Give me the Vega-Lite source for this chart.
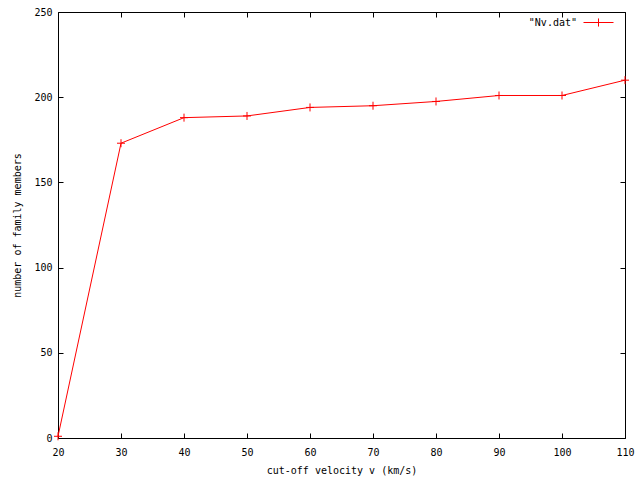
{
  "$schema": "https://vega.github.io/schema/vega-lite/v6.json",
  "width": 567,
  "height": 426,
  "autosize": {"type": "none"},
  "padding": {"left": 58, "top": 12, "right": 15, "bottom": 42},
  "background": "white",
  "config": {
    "font": "DejaVu Sans Mono",
    "view": {"stroke": "#000", "strokeWidth": 1},
    "axis": {
      "grid": false,
      "domain": false,
      "tickColor": "#000",
      "tickWidth": 1,
      "labelFont": "DejaVu Sans Mono",
      "labelFontSize": 10,
      "labelColor": "#000",
      "titleFont": "DejaVu Sans Mono",
      "titleFontSize": 10,
      "titleFontWeight": "normal",
      "titleColor": "#000"
    }
  },
  "data": {
    "values": [
      {"v": 20, "n": 1},
      {"v": 30, "n": 173},
      {"v": 40, "n": 188},
      {"v": 50, "n": 189},
      {"v": 60, "n": 194},
      {"v": 70, "n": 195},
      {"v": 80, "n": 197.5},
      {"v": 90, "n": 201},
      {"v": 100, "n": 201},
      {"v": 110, "n": 210}
    ]
  },
  "layer": [
    {
      "mark": {"type": "line", "color": "red", "strokeWidth": 1},
      "encoding": {
        "x": {
          "field": "v", "type": "quantitative",
          "scale": {"domain": [20, 110], "nice": false, "zero": false},
          "axis": {"orient": "bottom", "values": [20,30,40,50,60,70,80,90,100,110], "ticks": false, "title": "cut-off velocity v (km/s)", "labelPadding": 9, "titlePadding": 8, "labelFlush": false}
        },
        "y": {
          "field": "n", "type": "quantitative",
          "scale": {"domain": [0, 250], "nice": false},
          "axis": {"orient": "left", "values": [0,50,100,150,200,250], "ticks": false, "title": "number of family members", "labelPadding": 6, "titlePadding": 11, "labelFlush": false}
        },
        "color": {
          "datum": "\"Nv.dat\"",
          "scale": {"range": ["#ff0000"]},
          "legend": {
            "title": null,
            "orient": "none",
            "legendX": 525,
            "legendY": -5,
            "symbolType": "M-1,0H1M0,-0.27V0.27",
            "symbolSize": 900,
            "symbolStrokeWidth": 1,
            "symbolStrokeColor": "#ff0000",
            "symbolOpacity": 1,
            "labelAlign": "right",
            "labelOffset": -37,
            "labelFont": "DejaVu Sans Mono",
            "labelFontSize": 10,
            "labelColor": "#000"
          }
        }
      }
    },
    {
      "mark": {"type": "point", "shape": "M-1,0H1M0,-1V1", "size": 64, "filled": false, "color": "red", "strokeWidth": 1, "opacity": 1},
      "encoding": {
        "x": {
          "field": "v", "type": "quantitative",
          "scale": {"domain": [20, 110], "nice": false, "zero": false},
          "axis": {"orient": "top", "values": [20,30,40,50,60,70,80,90,100,110], "labels": false, "title": null, "offset": -5, "tickSize": 5}
        },
        "y": {
          "field": "n", "type": "quantitative",
          "scale": {"domain": [0, 250], "nice": false},
          "axis": {"orient": "right", "values": [0,50,100,150,200,250], "labels": false, "title": null, "offset": -5, "tickSize": 5}
        }
      }
    },
    {
      "mark": {"type": "point", "shape": "M-1,0H1M0,-1V1", "size": 64, "filled": false, "color": "red", "strokeWidth": 1, "opacity": 0},
      "encoding": {
        "x": {
          "field": "v", "type": "quantitative",
          "scale": {"domain": [20, 110], "nice": false, "zero": false},
          "axis": {"orient": "bottom", "values": [20,30,40,50,60,70,80,90,100,110], "labels": false, "title": null, "offset": -5, "tickSize": 5}
        },
        "y": {
          "field": "n", "type": "quantitative",
          "scale": {"domain": [0, 250], "nice": false},
          "axis": {"orient": "left", "values": [0,50,100,150,200,250], "labels": false, "title": null, "offset": -5, "tickSize": 5}
        }
      }
    }
  ],
  "resolve": {"axis": {"x": "independent", "y": "independent"}}
}
